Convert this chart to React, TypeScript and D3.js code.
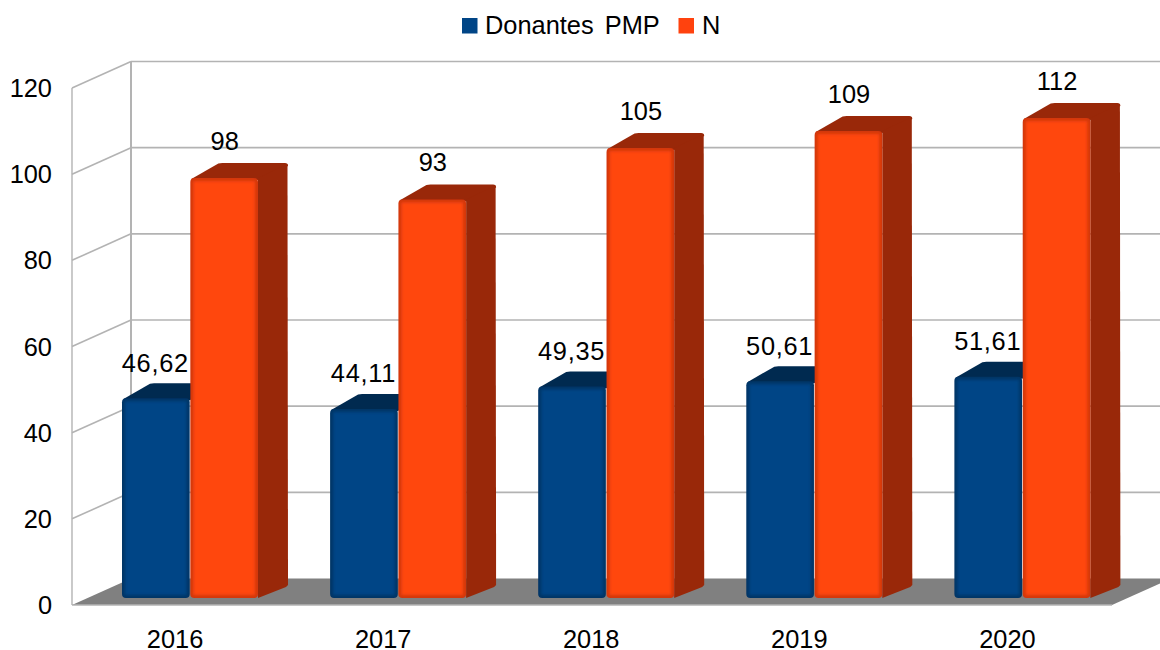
import React from "react";
import * as d3 from "d3";

const categories = ["2016", "2017", "2018", "2019", "2020"];
const donantes = [46.62, 44.11, 49.35, 50.61, 51.61];
const donantesLabels = ["46,62", "44,11", "49,35", "50,61", "51,61"];
const nValues = [98, 93, 105, 109, 112];
const nLabels = ["98", "93", "105", "109", "112"];
const yTicks = [0, 20, 40, 60, 80, 100, 120];

const W = 1160, H = 650;
const FONT = "'Liberation Sans', Arial, sans-serif";
const GRID = "#b3b3b3";
const depthX = 59, depthY = -26.5;
const barDX = 30, barDY = -15;

const yFront = d3.scaleLinear().domain([0, 120]).range([605, 88]);
const yBar = d3.scaleLinear().domain([0, 120]).range([598, 83.8]);
const x0 = d3.scaleBand<string>().domain(categories).range([71.5, 1112]);
const x1 = d3.scaleBand<string>().domain(["a", "b"]).range([50.5, 186.5]).paddingInner(0.01);

function Bar({ x, w, value, front, edge, dark, topDark, clipSide }: any) {
  const yT = yBar(value), yB = yBar(0);
  const r = 4;
  const top = `M${x + 1},${yT + 1} L${x + barDX - 2},${yT + barDY + 0.5} Q${x + barDX},${yT + barDY} ${x + barDX + 2},${yT + barDY} L${x + w + barDX - 3},${yT + barDY} Q${x + w + barDX},${yT + barDY} ${x + w + barDX},${yT + barDY + 3} L${x + w},${yT + 2} Z`;
  const side = `M${x + w},${yT} L${x + w + barDX - 0.5},${yT + barDY + 1} L${x + w + barDX},${yB + barDY + 2} L${x + w + barDX - 2},${yB + barDY + 4} L${x + w},${yB} Z`;
  return (
    <g>
      <path d={top} fill={topDark} />
      {clipSide ? null : <path d={side} fill={dark} />}
      <rect x={x} y={yT} width={w} height={yB - yT} rx={r} ry={r} fill={edge} />
      <rect x={x + 3} y={yT + 3} width={w - 6} height={yB - yT - 6} fill={front} filter="url(#soft)" />
    </g>
  );
}

export default function App() {
  const floor = `M${72},${yFront(0)} L1112,${yFront(0)} L${1112 + depthX},${yFront(0) + depthY} L${72 + depthX},${yFront(0) + depthY} Z`;
  const bw = x1.bandwidth();
  return (
    <svg width={W} height={H} viewBox={`0 0 ${W} ${H}`} style={{ position: "fixed", left: 0, top: 0, background: "#fff", fontFamily: FONT }}>
      <defs>
        <filter id="soft" x="-10%" y="-10%" width="120%" height="120%">
          <feGaussianBlur stdDeviation="1.6" />
        </filter>
      </defs>

      {yTicks.slice(1).map((t) => (
        <g key={t}>
          <line x1={72} y1={yFront(t)} x2={72 + depthX} y2={yFront(t) + depthY} stroke={GRID} strokeWidth={1.6} />
          <line x1={72 + depthX} y1={yFront(t) + depthY} x2={W} y2={yFront(t) + depthY} stroke={GRID} strokeWidth={1.6} />
        </g>
      ))}
      <line x1={72 + depthX} y1={yFront(120) + depthY} x2={72 + depthX} y2={yFront(0) + depthY} stroke={GRID} strokeWidth={2} />
      <line x1={72} y1={yFront(120)} x2={72} y2={yFront(0)} stroke={GRID} strokeWidth={1.4} />

      <path d={floor} fill="#808080" />
      <line x1={72} y1={yFront(0)} x2={1112} y2={yFront(0)} stroke={GRID} strokeWidth={1.4} />

      {yTicks.map((t) => (
        <text key={t} x={52} y={yFront(t)} dy="0.36em" textAnchor="end" fontSize={25.4} fill="#000">{t}</text>
      ))}
      {categories.map((c) => (
        <text key={c} x={x0(c)! + x0.bandwidth() / 2 - 0.5} y={647.5} textAnchor="middle" fontSize={25.4} fill="#000">{c}</text>
      ))}

      {categories.map((c, i) => {
        const xa = x0(c)! + x1("a")!;
        const xb = x0(c)! + x1("b")!;
        return (
          <g key={c}>
            <Bar x={xa} w={bw} value={donantes[i]} front="#004586" edge="#003566" dark="#002a50" topDark="#002a50" clipSide />
            <Bar x={xb} w={bw} value={nValues[i]} front="#ff460f" edge="#d2370c" dark="#992809" topDark="#992809" />
            <text x={xa + bw / 2 - 0.5} y={yBar(donantes[i]) - 26.5} textAnchor="middle" fontSize={25.4} letterSpacing={0.7} fill="#000">{donantesLabels[i]}</text>
            <text x={xb + bw / 2 + 0.5} y={yBar(nValues[i]) - 28} textAnchor="middle" fontSize={25.4} fill="#000">{nLabels[i]}</text>
          </g>
        );
      })}

      <rect x={462} y={18} width={15.5} height={15.5} fill="#004586" />
      <text x={485} y={34} fontSize={25.4} fill="#000" wordSpacing={4}>Donantes PMP</text>
      <rect x={678.5} y={18} width={15.5} height={15.5} fill="#ff420e" />
      <text x={702} y={34} fontSize={25.4} fill="#000">N</text>
    </svg>
  );
}
